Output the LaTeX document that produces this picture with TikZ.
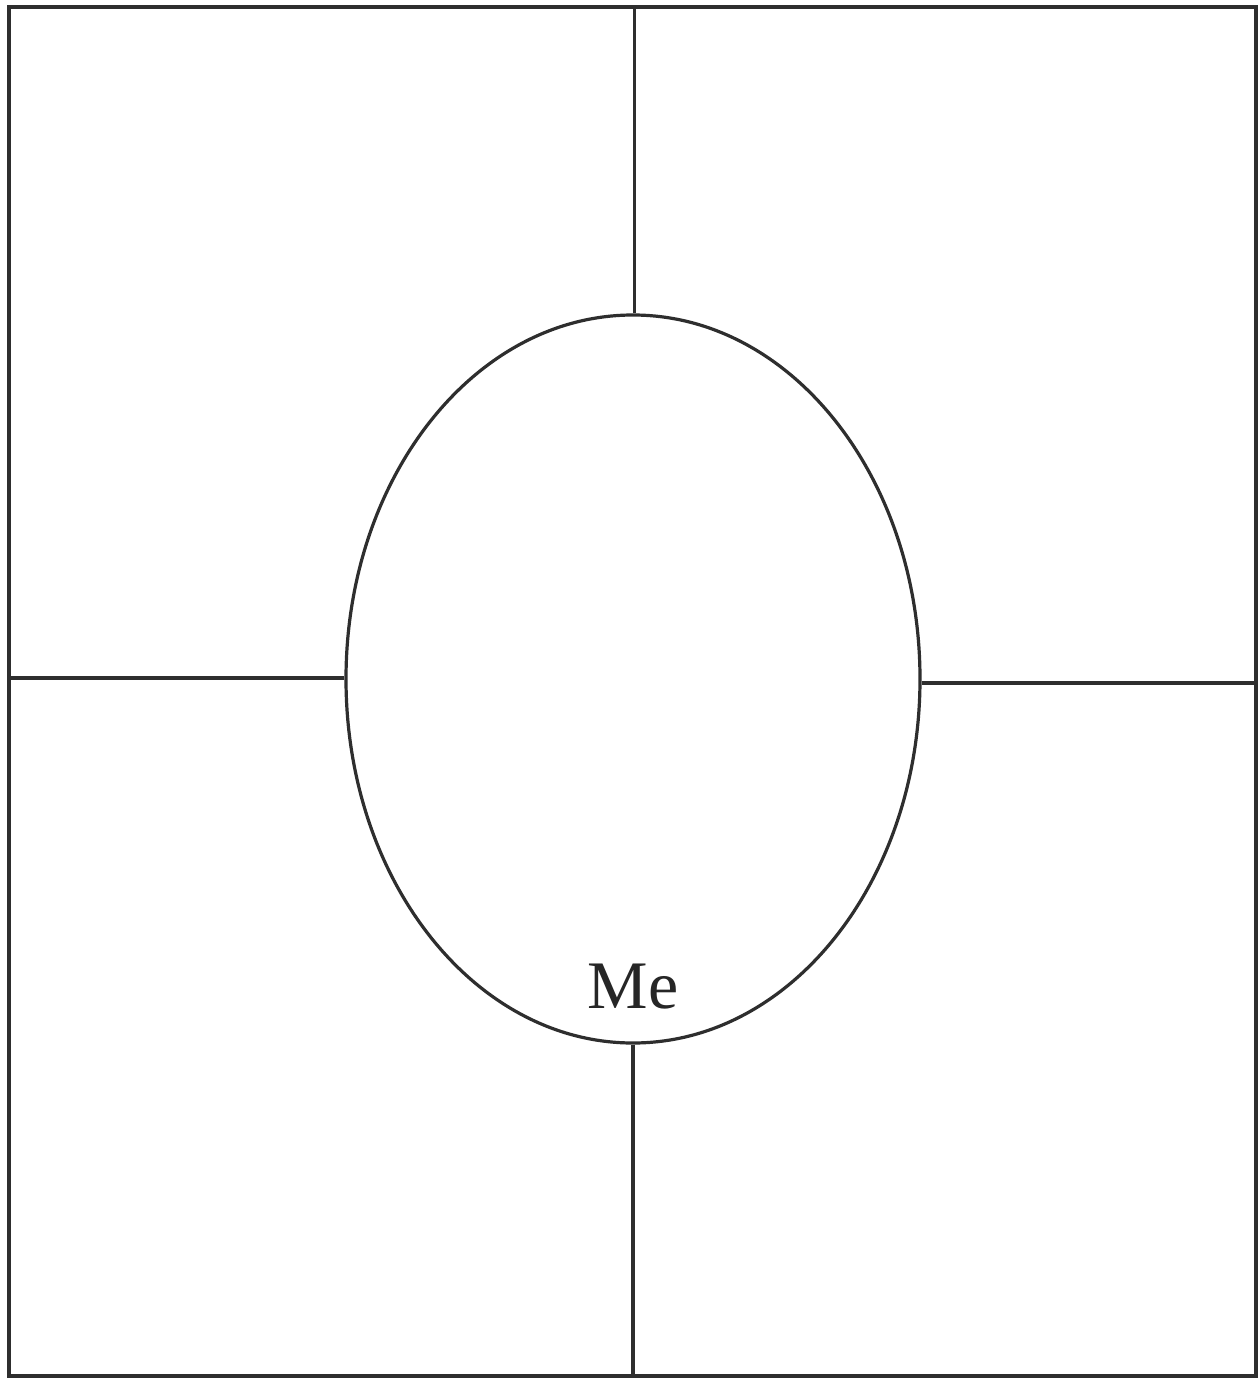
\documentclass[tikz,border=0pt]{standalone}
\usepackage{fontspec}
\setmainfont{Liberation Serif}
\usetikzlibrary{shapes.geometric}
\begin{document}
\begin{tikzpicture}[x=1pt,y=-1pt,
  ln/.style={draw=black!82,line width=3.2pt},
  egg/.style={ellipse,draw=black!82,line width=3.2pt,minimum width=574pt,minimum height=728pt,inner sep=0pt},
  lbl/.style={font=\fontsize{68}{68}\selectfont,text=black!85,inner sep=0pt}]
\useasboundingbox (0,0) rectangle (1260,1378);
\fill[white] (0,0) rectangle (1260,1378);
\draw[ln] (9,7) rectangle (1256,1376);
\node[egg] (me) at (633,679) {};
\coordinate (T) at (634.5,7);
\coordinate (B) at (633,1376);
\coordinate (L) at (9,678);
\coordinate (R) at (1256,683);
\draw[ln] (T |- me.north) -- (T);
\draw[ln] (me.south) -- (B);
\draw[ln] (me.west |- L) -- (L);
\draw[ln] (me.east |- R) -- (R);
\node[lbl,anchor=base] (t) at (633,1008) {Me};
\end{tikzpicture}
\end{document}
